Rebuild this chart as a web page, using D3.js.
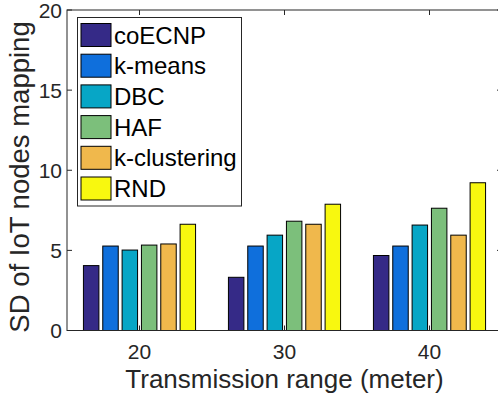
<!DOCTYPE html>
<html>
<head>
<meta charset="utf-8">
<script src="https://cdn.jsdelivr.net/npm/d3@7"></script>
<style>
  body { margin: 0; background: #fff; }
  svg { display: block; font-family: "Liberation Sans", Arial, Helvetica, sans-serif; }
</style>
</head>
<body>
<svg id="chart" width="498" height="403"></svg>
<script>
// data
var ranges = [20, 30, 40];
var methods = ["coECNP", "k-means", "DBC", "HAF", "k-clustering", "RND"];
var colors = ["#352a87", "#0f6fdc", "#07a6c6", "#7cbf7b", "#f0b84c", "#f8f80f"];
var sdValues = [
  [4.05, 3.32, 4.68],   // coECNP
  [5.27, 5.27, 5.27],   // k-means
  [5.02, 5.95, 6.58],   // DBC
  [5.33, 6.82, 7.63],   // HAF
  [5.40, 6.63, 5.95],   // k-clustering
  [6.63, 7.88, 9.22]    // RND
];
var yTicks = [0, 5, 10, 15, 20];

var svg = d3.select("#chart");
var pLeft = 67, pRight = 502, pTop = 10, pBottom = 330.5;
var axisColor = "#262626";

var x = d3.scaleLinear().domain([15, 45]).range([pLeft, pRight]);
var y = d3.scaleLinear().domain([0, 20]).range([pBottom, pTop]);

// matlab-style grouped bars (group takes 0.8 of the spacing between groups)
var groupWidth = 0.8 * (ranges[1] - ranges[0]);
var step = groupWidth / methods.length;
var barW = step * 0.8;

var rows = [];
methods.forEach(function(m, i) {
  ranges.forEach(function(r, j) {
    rows.push({ m: i, x: r + (i - (methods.length - 1) / 2) * step, v: sdValues[i][j] });
  });
});

// ticks (inward, all four sides)
var tl = 5;
var g = svg.append("g").attr("stroke", axisColor).attr("stroke-width", 1);
ranges.forEach(function(r) {
  g.append("line").attr("x1", x(r)).attr("x2", x(r)).attr("y1", pBottom).attr("y2", pBottom - tl);
  g.append("line").attr("x1", x(r)).attr("x2", x(r)).attr("y1", pTop).attr("y2", pTop + tl);
});
yTicks.forEach(function(t) {
  g.append("line").attr("x1", pLeft).attr("x2", pLeft + tl).attr("y1", y(t)).attr("y2", y(t));
  g.append("line").attr("x1", pRight).attr("x2", pRight - tl).attr("y1", y(t)).attr("y2", y(t));
});

svg.append("g").selectAll("rect")
  .data(rows)
  .enter().append("rect")
    .attr("x", function(d) { return x(d.x - barW / 2); })
    .attr("width", function(d) { return x(d.x + barW / 2) - x(d.x - barW / 2); })
    .attr("y", function(d) { return y(d.v); })
    .attr("height", function(d) { return y(0) - y(d.v); })
    .attr("fill", function(d) { return colors[d.m]; })
    .attr("stroke", "#000")
    .attr("stroke-width", 1);

// box
svg.append("rect")
  .attr("x", pLeft).attr("y", pTop)
  .attr("width", pRight - pLeft).attr("height", pBottom - pTop)
  .attr("fill", "none").attr("stroke", axisColor).attr("stroke-width", 1);

// tick labels
svg.append("g").selectAll("text")
  .data(yTicks)
  .enter().append("text")
    .attr("x", pLeft - 5)
    .attr("y", function(d) { return y(d) + 7.5; })
    .attr("text-anchor", "end")
    .attr("font-size", 21)
    .attr("fill", axisColor)
    .text(function(d) { return d; });

svg.append("g").selectAll("text")
  .data(ranges)
  .enter().append("text")
    .attr("x", function(d) { return x(d); })
    .attr("y", 359)
    .attr("text-anchor", "middle")
    .attr("font-size", 21)
    .attr("fill", axisColor)
    .text(function(d) { return d; });

// axis titles
svg.append("text")
  .attr("x", x(30)).attr("y", 388)
  .attr("text-anchor", "middle")
  .attr("font-size", 26)
  .attr("fill", axisColor)
  .text("Transmission range (meter)");

svg.append("text")
  .attr("transform", "translate(29,177) rotate(-90)")
  .attr("text-anchor", "middle")
  .attr("font-size", 27.5)
  .attr("fill", axisColor)
  .text("SD of IoT nodes mapping");

// legend
var lg = svg.append("g");
lg.append("rect")
  .attr("x", 77.5).attr("y", 17.5)
  .attr("width", 164).attr("height", 188.5)
  .attr("fill", "#fff").attr("stroke", axisColor).attr("stroke-width", 1);

var item = lg.selectAll("g.item")
  .data(methods)
  .enter().append("g")
    .attr("class", "item")
    .attr("transform", function(d, i) { return "translate(81," + (23.5 + i * 30.7) + ")"; });

item.append("rect")
  .attr("width", 30).attr("height", 23)
  .attr("fill", function(d, i) { return colors[i]; })
  .attr("stroke", "#000").attr("stroke-width", 1);

item.append("text")
  .attr("x", 33).attr("y", 20)
  .attr("font-size", 24)
  .attr("fill", "#000")
  .text(function(d) { return d; });
</script>
</body>
</html>
